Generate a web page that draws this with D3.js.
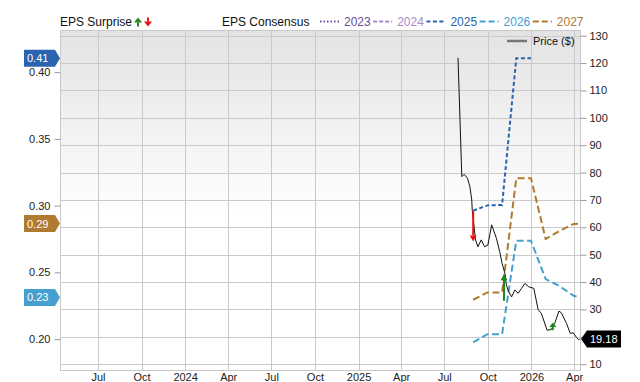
<!DOCTYPE html>
<html>
<head>
<meta charset="utf-8">
<script src="https://cdn.jsdelivr.net/npm/d3@7"></script>
<style>
  body { margin: 0; background: #fff; }
  text { font-family: "Liberation Sans", Arial, sans-serif; }
</style>
</head>
<body>
<div id="chart"></div>
<script>
// size of the picture and the plot box
const width = 640;
const height = 382;
const plot = { left: 60.5, right: 580.5, top: 30.5, bottom: 370.5 };

// price ($), right axis
const priceDates = ["2025-07-30", "2025-08-07", "2025-08-12", "2025-08-19", "2025-08-24", "2025-08-28",
  "2025-08-29", "2025-09-05", "2025-09-10", "2025-09-17", "2025-09-24", "2025-10-01", "2025-10-09",
  "2025-10-19", "2025-10-26", "2025-10-31", "2025-11-06", "2025-11-09", "2025-11-14", "2025-11-20",
  "2025-11-27", "2025-12-04", "2025-12-11", "2025-12-18", "2025-12-26", "2026-01-06", "2026-01-11",
  "2026-01-15", "2026-01-22", "2026-02-03", "2026-02-12", "2026-02-19", "2026-02-28", "2026-03-05",
  "2026-03-16", "2026-03-24", "2026-03-30", "2026-04-06", "2026-04-10", "2026-04-13"];
const priceValues = [121.9, 78.5, 79.4, 77.9, 74.9, 70.0,
  66.3, 55.4, 52.9, 55.4, 52.9, 53.5, 60.9,
  56.0, 51.1, 46.8, 43.2, 38.9, 36.5, 34.6,
  37.1, 35.9, 37.7, 39.5, 38.3, 37.7, 33.4,
  30.0, 28.5, 22.4, 22.7, 24.9, 29.4, 28.8,
  24.9, 21.2, 21.5, 19.8, 19.0, 19.18];

// EPS consensus, left axis
const consensusDates = ["2025-08-31", "2025-09-30", "2025-10-31", "2025-11-30", "2025-12-31",
  "2026-01-31", "2026-02-28", "2026-03-31", "2026-04-13"];
const eps2025 = [0.2962, 0.3002, 0.3005, 0.4105, 0.4105];
const eps2026 = [0.1975, 0.2037, 0.2037, 0.2737, 0.2737, 0.2450, 0.2400, 0.2325, 0.2312];
const eps2027 = [0.2295, 0.2350, 0.2350, 0.3205, 0.3205, 0.2750, 0.2807, 0.2863, 0.2866];

// EPS surprise arrows
const surpriseDates = ["2025-08-31", "2025-11-04", "2026-02-15"];
const surpriseFrom = [0.2957, 0.2287, 0.2067];
const surpriseTo = [0.2732, 0.2486, 0.2125];

const priceTicks = [10, 20, 30, 40, 50, 60, 70, 80, 90, 100, 110, 120, 130];
const epsTicks = [0.20, 0.25, 0.30, 0.35, 0.40];
const legendYears = ["2023", "2024", "2025", "2026", "2027"];

const yearColor = { "2023": "#6a4c9c", "2024": "#a78bc7", "2025": "#2a63ae", "2026": "#45a0cf", "2027": "#b07a30" };
const yearDash = { "2023": "1.5,2", "2024": "4,2", "2025": "4,2.5", "2026": "7,3.5", "2027": "7,3.5" };

const parse = d3.timeParse("%Y-%m-%d");

var svg = d3.select("#chart")
    .append("svg")
    .attr("width", width)
    .attr("height", height);

var x = d3.scaleTime()
    .domain([new Date(2023, 3, 13), new Date(2026, 3, 14, 12)])
    .range([plot.left, plot.right]);

var yPrice = d3.scaleLinear()
    .domain([7.7, 131.9])
    .range([plot.bottom, plot.top]);

var yEps = d3.scaleLinear()
    .domain([0.1765, 0.4312])
    .range([plot.bottom, plot.top]);

// background gradient
var defs = svg.append("defs");
var grad = defs.append("linearGradient")
    .attr("id", "bg")
    .attr("x1", 0).attr("y1", 0).attr("x2", 0).attr("y2", 1);
grad.append("stop").attr("offset", "0%").attr("stop-color", "#e3e3e3");
grad.append("stop").attr("offset", "55%").attr("stop-color", "#ffffff");

svg.append("rect")
    .attr("x", plot.left)
    .attr("y", plot.top)
    .attr("width", plot.right - plot.left)
    .attr("height", plot.bottom - plot.top)
    .attr("fill", "url(#bg)")
    .attr("stroke", "#c8c8c8");

// grid lines
var xTicks = x.ticks(d3.timeMonth.every(3)).filter(d => x(d) > plot.left + 2);

svg.append("g").selectAll("line")
    .data(xTicks)
    .enter().append("line")
    .attr("x1", d => Math.round(x(d)) + 0.5)
    .attr("x2", d => Math.round(x(d)) + 0.5)
    .attr("y1", plot.top)
    .attr("y2", plot.bottom)
    .attr("stroke", "#cacaca");

svg.append("g").selectAll("line")
    .data(priceTicks)
    .enter().append("line")
    .attr("x1", plot.left)
    .attr("x2", plot.right)
    .attr("y1", d => Math.round(yPrice(d)) + 0.5)
    .attr("y2", d => Math.round(yPrice(d)) + 0.5)
    .attr("stroke", "#cacaca");

// the last price sits in a badge that hides the tick label behind it
var lastPrice = priceValues[priceValues.length - 1];
var py = yPrice(lastPrice);

// axes
var rightAxis = svg.append("g")
    .attr("transform", `translate(${plot.right},0)`)
    .call(d3.axisRight(yPrice).tickValues(priceTicks).tickSize(6).tickPadding(3));

var leftAxis = svg.append("g")
    .attr("transform", `translate(${plot.left},0)`)
    .call(d3.axisLeft(yEps).tickValues(epsTicks).tickFormat(d3.format(".2f")).tickSize(6).tickPadding(4));

var bottomAxis = svg.append("g")
    .attr("transform", `translate(0,${plot.bottom})`)
    .call(d3.axisBottom(x).tickValues(xTicks).tickSize(0).tickPadding(3)
        .tickFormat(d => d.getMonth() === 0 ? d3.timeFormat("%Y")(d) : d3.timeFormat("%b")(d)));

[rightAxis, leftAxis, bottomAxis].forEach(function (g) {
    g.select(".domain").remove();
    g.selectAll(".tick line").attr("stroke", "#999");
    g.selectAll(".tick text").attr("fill", "#222").style("font-size", "11px")
        .style("font-family", "'Liberation Sans', Arial, sans-serif");
});

rightAxis.selectAll(".tick text")
    .filter(d => Math.abs(yPrice(d) - py) < 12)
    .remove();

// consensus lines
var epsLine = d3.line()
    .x(d => x(d[0]))
    .y(d => yEps(d[1]));

var consensus = [
    { year: "2025", values: eps2025 },
    { year: "2026", values: eps2026 },
    { year: "2027", values: eps2027 }
];

consensus.forEach(function (s) {
    var pts = s.values.map((v, i) => [parse(consensusDates[i]), v]);
    svg.append("path")
        .attr("d", epsLine(pts))
        .attr("fill", "none")
        .attr("stroke", yearColor[s.year])
        .attr("stroke-width", 2)
        .attr("stroke-dasharray", yearDash[s.year]);
});

// price line
var priceLine = d3.line()
    .x(d => x(d[0]))
    .y(d => yPrice(d[1]));

svg.append("path")
    .attr("d", priceLine(priceValues.map((v, i) => [parse(priceDates[i]), v])))
    .attr("fill", "none")
    .attr("stroke", "#111")
    .attr("stroke-width", 1);

// surprise arrows
function arrow(g, cx, y0, y1, color, head, hw) {
    var dir = y1 < y0 ? -1 : 1;
    var hl = head || 6;
    var w = hw || 3.5;
    g.append("line")
        .attr("x1", cx).attr("x2", cx)
        .attr("y1", y0).attr("y2", y1 - dir * hl)
        .attr("stroke", color)
        .attr("stroke-width", 2);
    g.append("path")
        .attr("d", `M${cx - w},${y1 - dir * hl}L${cx + w},${y1 - dir * hl}L${cx},${y1}Z`)
        .attr("fill", color);
}

var arrows = svg.append("g");
surpriseDates.forEach(function (d, i) {
    var up = surpriseTo[i] > surpriseFrom[i];
    var hl = Math.min(6, Math.abs(yEps(surpriseTo[i]) - yEps(surpriseFrom[i])) * 0.6);
    arrow(arrows, x(parse(d)), yEps(surpriseFrom[i]), yEps(surpriseTo[i]), up ? "#1a8a1a" : "#ee1111", hl);
});

// badges on the left axis
var lastEps = consensus.map(s => ({ year: s.year, v: s.values[s.values.length - 1] }));
var badges = svg.append("g");
lastEps.forEach(function (b) {
    var cy = yEps(b.v);
    badges.append("path")
        .attr("d", `M24,${cy - 8.5}H55L60,${cy}L55,${cy + 8.5}H24Z`)
        .attr("fill", yearColor[b.year]);
    badges.append("text")
        .attr("x", 27)
        .attr("y", cy + 4)
        .attr("fill", "#fff")
        .style("font-size", "11px")
        .text(d3.format(".2f")(b.v));
});

// price badge on the right
badges.append("path")
    .attr("d", `M581,${py}L587,${py - 8.5}H621V${py + 8.5}H587Z`)
    .attr("fill", "#000");
badges.append("text")
    .attr("x", 590)
    .attr("y", py + 4)
    .attr("fill", "#fff")
    .style("font-size", "11px")
    .text(d3.format(".2f")(lastPrice));

// legend
var legend = svg.append("g");
legend.append("text")
    .attr("x", 60).attr("y", 26)
    .attr("fill", "#111")
    .style("font-size", "12px")
    .text("EPS Surprise");
arrow(legend, 138, 26.5, 17.5, "#1a8a1a", 5, 4);
arrow(legend, 148, 17.5, 26.5, "#ee1111", 5, 4);

legend.append("text")
    .attr("x", 222).attr("y", 26)
    .attr("fill", "#111")
    .style("font-size", "12px")
    .text("EPS Consensus");

legendYears.forEach(function (yr, i) {
    var lx = 320 + i * 53.2;
    legend.append("line")
        .attr("x1", lx).attr("x2", lx + 19)
        .attr("y1", 21.5).attr("y2", 21.5)
        .attr("stroke", yearColor[yr])
        .attr("stroke-width", 2)
        .attr("stroke-dasharray", yearDash[yr] === "7,3.5" ? "6,3" : yearDash[yr]);
    legend.append("text")
        .attr("x", lx + 24).attr("y", 26)
        .attr("fill", yearColor[yr])
        .style("font-size", "12px")
        .text(yr);
});

// price legend
legend.append("line")
    .attr("x1", 507).attr("x2", 527)
    .attr("y1", 41).attr("y2", 41)
    .attr("stroke", "#777")
    .attr("stroke-width", 2.5);
legend.append("text")
    .attr("x", 533).attr("y", 45)
    .attr("fill", "#111")
    .style("font-size", "11px")
    .text("Price ($)");
</script>
</body>
</html>
